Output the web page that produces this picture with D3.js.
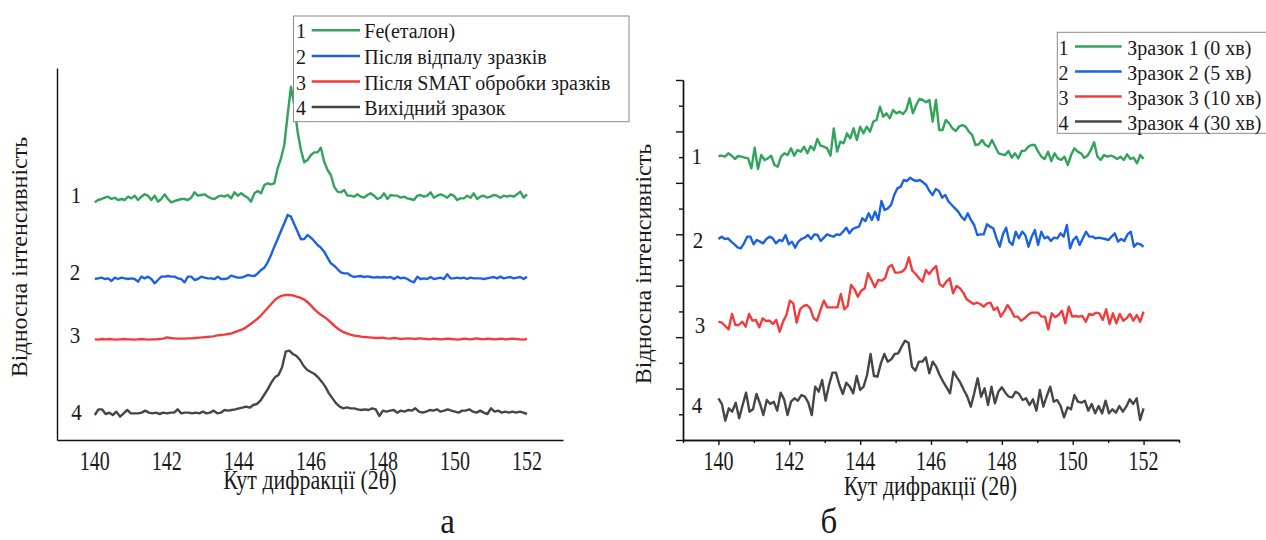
<!DOCTYPE html>
<html>
<head>
<meta charset="utf-8">
<script src="https://cdn.jsdelivr.net/npm/d3@7"></script>
<style>
  body { margin: 0; background: #fff; }
  svg { display: block; background: #fff; }
  text { font-family: "Liberation Serif", "Times New Roman", "DejaVu Serif", serif; fill: #1a1a1a; }
</style>
</head>
<body>
<svg id="chart" width="1266" height="540"></svg>
<script>
// scan range, 2θ (deg), sampled evenly
const angleStart = 140;
const angleEnd = 152;
const xTickLabels = [140, 142, 144, 146, 148, 150, 152];

const curveNumbers = ["1", "2", "3", "4"];
const curveColors = ["#31a35b", "#1c62e0", "#f23c3c", "#464646"];

const xTitle = "Кут дифракції (2θ)";
const yTitle = "Відносна інтенсивність";

// ---- panel а ----
const legendA = ["Fe(еталон)", "Після відпалу зразків", "Після SMAT обробки зразків", "Вихідний зразок"];
// vertical shift of each pattern (a.u.)
const offsetsA = [725, 485, 302, 80];

const feRef = [-12,-5,-2,2,5,-2,2,-5,-2,-5,
  5,0,8,-5,5,12,8,-5,8,-10,
  -2,12,-2,-12,-8,-5,-2,-2,-5,2,
  18,8,10,12,5,0,-2,5,8,5,
  10,0,18,8,15,8,2,-10,15,22,
  15,40,45,42,45,90,120,160,250,335,
  280,200,145,108,115,130,138,138,152,110,
  85,70,35,20,18,25,8,8,5,12,
  5,2,10,15,8,-2,2,15,-2,10,
  8,8,2,5,0,-2,-5,8,10,5,
  8,18,2,8,12,8,2,12,8,-5,
  0,0,8,2,15,-2,5,8,2,5,
  10,8,2,8,5,8,5,12,20,2,
  12];

const annealed = [-2,0,2,-2,0,-8,2,-2,2,0,-2,0,-2,-10,5,0,5,-2,
  -15,-5,5,5,7,5,5,0,-2,-12,5,5,-5,-2,5,2,0,0,-2,5,-2,-2,0,8,5,2,2,5,10,8,7,15,
  25,32,48,70,95,118,142,165,190,185,162,140,
  117,118,130,122,112,100,92,80,62,45,38,28,18,15,15,8,4,
  6,7,4,6,4,2,4,2,4,2,4,-2,5,0,2,-2,-8,-12,5,-2,0,-2,4,-2,0,2,-2,12,0,0,
  2,0,2,-2,2,0,0,0,-2,0,2,4,0,5,0,2,4,0,2,4,-2,5];

const afterSmat = [0,-1,1,0,1,0,-1,0,1,0,0,-1,0,1,0,-1,0,0,1,2,
  6,4,3,2,2,2,3,3,4,5,6,
  7,8,9,12,13,14,16,18,22,26,
  30,36,44,52,60,70,82,94,106,118,
  126,131,133,133,132,128,125,120,112,102,
  90,80,72,65,56,46,36,28,22,18,
  14,11,10,8,7,6,5,4,4,5,
  3,2,4,3,1,2,3,2,1,3,2,1,0,2,1,0,1,2,1,0,
  -1,1,2,0,1,3,1,0,2,1,0,1,2,0,1,2,1,0,-1,1];

const initial = [-5,12,12,-2,2,-5,5,-10,0,10,
  0,0,0,2,8,2,0,2,-2,2,
  0,2,2,12,0,2,2,0,2,0,
  5,0,2,8,0,2,10,8,10,12,
  15,17,20,17,25,28,38,55,72,92,
  108,115,138,185,188,178,172,160,142,130,
  124,118,108,95,80,60,45,30,20,15,
  18,15,15,12,10,12,10,15,12,-8,
  8,5,8,10,2,8,5,10,8,15,
  5,2,5,10,8,12,5,8,12,8,
  5,2,8,8,12,5,2,8,2,-2,
  15,5,8,2,5,2,5,2,5,2,-2];

// ---- panel б ----
const legendB = ["Зразок 1 (0 хв)", "Зразок 2 (5 хв)", "Зразок 3 (10 хв)", "Зразок 4 (30 хв)"];
const offsetsB = [850, 603, 355, 100];

const sample0 = [2,3,0,10,3,-7,2,0,-3,-5,
  -35,27,-37,5,-10,-5,3,-25,-30,0,
  10,5,25,3,20,15,30,10,32,20,
  53,33,30,25,3,85,15,45,40,70,
  55,85,50,90,70,90,75,105,110,150,
  120,130,115,140,130,135,128,140,175,130,
  155,173,170,163,170,105,170,80,80,110,
  100,85,77,90,95,90,75,65,35,37,
  50,35,30,50,30,10,7,5,17,-3,
  10,-5,17,18,30,35,35,15,0,-7,
  15,-13,10,-5,-10,0,-25,5,25,15,
  10,-3,3,20,43,0,-10,5,0,3,
  0,-7,0,-10,7,-7,-3,-20,5,-7];

const sample5 = [0,7,0,2,-8,-16,-25,-28,-13,7,
  7,-16,-3,-8,-13,0,7,2,-13,-3,
  -6,12,-16,-8,-26,-8,0,4,12,0,
  14,12,-6,4,14,10,7,14,12,22,
  34,17,30,34,37,62,54,77,57,82,
  57,114,87,92,102,132,152,157,177,174,
  184,177,174,177,170,162,144,132,150,144,
  124,132,112,102,92,82,67,57,77,57,
  42,12,14,14,44,37,32,2,-23,14,
  34,-8,-18,22,2,22,12,-23,7,27,
  -18,22,2,7,-6,4,2,17,7,42,
  -28,-3,7,-18,2,22,7,7,2,4,
  2,0,-3,7,17,-8,0,-6,14,22,
  -23,-13,-16,-23];

const sample10 = [0,-3,-13,-23,23,-10,-10,0,-15,23,
  3,5,-17,10,2,3,-7,5,-30,0,
  20,63,55,-3,37,47,50,40,10,3,
  35,63,43,43,43,43,83,37,47,110,
  97,75,93,100,145,125,103,125,123,130,
  163,170,147,147,150,160,193,153,143,130,
  120,155,143,157,167,113,105,120,130,85,
  107,100,87,67,60,53,57,53,45,55,
  57,35,43,15,30,50,35,15,15,3,
  10,20,27,27,27,15,15,-23,25,13,
  20,33,-5,45,15,17,15,17,0,23,
  20,27,25,5,37,-7,25,-5,23,3,
  10,23,3,20,0,30];

const sample30 = [25,8,-42,-5,-15,12,-35,5,42,-15,
  -8,38,10,-25,20,8,15,-12,42,22,
  -25,15,25,18,35,30,12,-25,60,45,
  80,18,65,102,102,65,38,72,60,40,
  92,50,60,95,158,92,90,130,158,135,
  142,158,160,180,198,192,120,108,135,135,
  148,100,135,120,95,75,58,40,105,88,
  72,50,30,0,40,85,30,55,5,60,
  10,45,58,42,30,28,45,38,20,25,
  5,22,-12,50,0,32,60,15,20,2,
  -32,-2,-8,35,15,12,18,-12,8,-20,
  2,-20,18,-20,-8,-18,2,-15,0,22,
  8,25,-40,-5];

const svg = d3.select("#chart");

// text that is a bit taller than wide, like in the scanned figure
function label(g, str, x, y, size, sy, anchor) {
  return g.append("text")
    .attr("transform", `translate(${x},${y}) scale(1,${sy})`)
    .attr("text-anchor", anchor || "middle")
    .attr("font-size", size)
    .text(str);
}

function toPoints(values, offset) {
  const n = values.length;
  return values.map((v, k) => [angleStart + (angleEnd - angleStart) * k / (n - 1), offset + v]);
}

function drawLegend(g, names, lg) {
  g.append("rect")
    .attr("x", lg.x).attr("y", lg.y)
    .attr("width", lg.w).attr("height", lg.h)
    .attr("fill", "#fff")
    .attr("stroke", "#8a8a8a")
    .attr("stroke-width", 1);

  names.forEach((name, i) => {
    const base = lg.base + i * lg.step;
    label(g, curveNumbers[i], lg.numX, base, lg.size, 1, "middle");
    g.append("line")
      .attr("x1", lg.line[0]).attr("x2", lg.line[1])
      .attr("y1", base - 8).attr("y2", base - 8)
      .attr("stroke", curveColors[i])
      .attr("stroke-width", 2.5);
    label(g, name, lg.textX, base, lg.size, 1, "start");
  });
}

function drawPanel(p) {
  const x = d3.scaleLinear().domain(p.xDomain).range(p.xRange);
  const y = d3.scaleLinear().domain(p.yDomain).range(p.yRange);
  const g = svg.append("g");

  // curves
  const line = d3.line().x(d => x(d[0])).y(d => y(d[1]));
  p.series.forEach((vals, i) => {
    g.append("path")
      .datum(toPoints(vals, p.offsets[i]))
      .attr("d", line)
      .attr("fill", "none")
      .attr("stroke", curveColors[i])
      .attr("stroke-width", 2.4)
      .attr("stroke-linejoin", "round");
  });

  // axes
  const xAxis = g.append("g").attr("transform", `translate(0,${p.yRange[0]})`);
  const yAxis = g.append("g").attr("transform", `translate(${p.xRange[0]},0)`);
  if (p.ticks) {
    xAxis.call(d3.axisBottom(x).tickValues(d3.range(p.xDomain[0] + 1, p.xDomain[1], 2)).tickSize(5).tickSizeOuter(0).tickFormat(""));
    xAxis.append("g").call(d3.axisBottom(x).tickValues(d3.range(p.xDomain[0], p.xDomain[1] + 1, 2)).tickSize(3).tickSizeOuter(0).tickFormat(""));
    const step = p.yDomain[1] / 7;
    yAxis.call(d3.axisLeft(y).tickValues(d3.range(0, 8).map(k => k * step)).tickSize(7).tickSizeOuter(0).tickFormat(""));
    yAxis.append("g").call(d3.axisLeft(y).tickValues(d3.range(0, 7).map(k => (k + 0.5) * step)).tickSize(4).tickSizeOuter(0).tickFormat(""));
  } else {
    xAxis.call(d3.axisBottom(x).tickValues([]).tickSizeOuter(0));
    yAxis.call(d3.axisLeft(y).tickValues([]).tickSizeOuter(0));
  }
  g.selectAll(".domain, .tick line").attr("stroke", "#111").attr("stroke-width", 1.4);

  xTickLabels.forEach(t => label(g, t, x(t), p.tickBase, 20, 1.35));
  label(g, xTitle, p.xTitle[0], p.xTitle[1], 22, 1.2);

  g.append("text")
    .attr("transform", `translate(${p.yTitle[0]},${p.yTitle[1]}) rotate(-90)`)
    .attr("text-anchor", "middle")
    .attr("font-size", 24)
    .text(yTitle);

  p.numbers.forEach((pos, i) => label(g, curveNumbers[i], pos[0], pos[1], 21, 1.1));

  drawLegend(g, p.legend, p.legendBox);
  label(g, p.letter, p.letterPos[0], p.letterPos[1], 33, 1.1);
}

drawPanel({
  xDomain: [138.95, 153], xRange: [57, 563],
  yDomain: [0, 1116], yRange: [440, 68],
  ticks: false,
  series: [feRef, annealed, afterSmat, initial],
  offsets: offsetsA,
  tickBase: 470,
  xTitle: [310, 489],
  yTitle: [27, 257],
  numbers: [[76, 203], [75, 280], [75, 343], [76.5, 420]],
  legend: legendA,
  legendBox: {x: 293.5, y: 16, w: 335.5, h: 105.7, base: 38.3, step: 25.6, numX: 301, line: [311.7, 360], textX: 364.3, size: 20},
  letter: "а", letterPos: [447.5, 533]
});

drawPanel({
  xDomain: [139, 153], xRange: [683, 1179],
  yDomain: [0, 1080], yRange: [440, 80],
  ticks: true,
  series: [sample0, sample5, sample10, sample30],
  offsets: offsetsB,
  tickBase: 470,
  xTitle: [930.5, 495],
  yTitle: [651, 264],
  numbers: [[696.7, 164], [698, 248], [700, 333], [697, 413]],
  legend: legendB,
  legendBox: {x: 1057.3, y: 32.3, w: 215, h: 101, base: 54.5, step: 25, numX: 1063.5, line: [1075, 1121.7], textX: 1127.3, size: 20},
  letter: "б", letterPos: [829, 533]
});
</script>
</body>
</html>
